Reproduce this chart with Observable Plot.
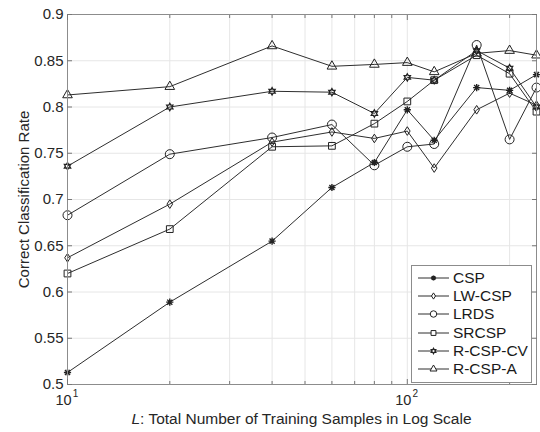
<!DOCTYPE html>
<html>
<head>
<meta charset="utf-8">
<script src="https://cdn.jsdelivr.net/npm/d3@7"></script>
<script src="https://cdn.jsdelivr.net/npm/@observablehq/plot@0.6"></script>
<style>
  body { margin: 0; background: #fff; font-family: "Liberation Sans", Arial, sans-serif; }
  #chart { position: relative; width: 540px; height: 432px; }
  #xlabel { position: absolute; left: 67px; width: 469px; top: 411px; text-align: center;
            font-size: 15.5px; line-height: 15.5px; color: #262626; white-space: nowrap; }
  #legend { position: absolute; left: 411px; top: 265px; width: 119px; height: 113px;
            border: 1px solid #8c8c8c; background: #fff; padding-top: 3px; box-sizing: content-box; }
  .row { display: flex; align-items: center; height: 18.2px; font-size: 15.5px; color: #1a1a1a; }
  .row svg { flex: none; }
</style>
</head>
<body>
<div id="chart"></div>
<script>
// Training sample sizes L and the classification rate of each method
const samples = [10, 20, 40, 60, 80, 100, 120, 160, 200, 240];
const methods = ["CSP", "LW-CSP", "LRDS", "SRCSP", "R-CSP-CV", "R-CSP-A"];
const csp    = [0.513, 0.589, 0.655, 0.713, 0.740, 0.797, 0.764, 0.821, 0.818, 0.835];
const lwCsp  = [0.637, 0.695, 0.762, 0.773, 0.766, 0.774, 0.734, 0.797, 0.815, 0.802];
const lrds   = [0.683, 0.749, 0.767, 0.781, 0.737, 0.757, 0.760, 0.867, 0.765, 0.821];
const srcsp  = [0.620, 0.668, 0.757, 0.758, 0.782, 0.806, 0.829, 0.856, 0.836, 0.795];
const rCspCv = [0.736, 0.800, 0.817, 0.816, 0.793, 0.832, 0.829, 0.861, 0.842, 0.800];
const rCspA  = [0.813, 0.822, 0.866, 0.844, 0.846, 0.848, 0.838, 0.858, 0.861, 0.856];

const yTicks = [0.5, 0.55, 0.6, 0.65, 0.7, 0.75, 0.8, 0.85, 0.9];
const yTickLabels = ["0.5", "0.55", "0.6", "0.65", "0.7", "0.75", "0.8", "0.85", "0.9"];
const xMajor = [10, 100];
const xMinor = [20, 30, 40, 50, 60, 70, 80, 90, 200];
const xBase = "10";

// Marker shapes (d3 symbol types)
const asterisk = {
  draw(ctx, size) {
    const r = Math.sqrt(size / Math.PI), d = r * 0.7071;
    ctx.moveTo(-r, 0); ctx.lineTo(r, 0);
    ctx.moveTo(0, -r); ctx.lineTo(0, r);
    ctx.moveTo(-d, -d); ctx.lineTo(d, d);
    ctx.moveTo(-d, d); ctx.lineTo(d, -d);
  }
};
const tallDiamond = {
  draw(ctx, size) {
    const r = Math.sqrt(size / Math.PI), w = r * 0.78, h = r * 1.2;
    ctx.moveTo(0, -h); ctx.lineTo(w, 0); ctx.lineTo(0, h); ctx.lineTo(-w, 0); ctx.closePath();
  }
};
const hexagram = {
  draw(ctx, size) {
    const R = Math.sqrt(size / Math.PI), ri = R / Math.sqrt(3);
    for (let k = 0; k < 12; ++k) {
      const a = k * Math.PI / 6 - Math.PI / 2, rr = k % 2 ? ri : R;
      const px = rr * Math.cos(a), py = rr * Math.sin(a);
      k ? ctx.lineTo(px, py) : ctx.moveTo(px, py);
    }
    ctx.closePath();
  }
};

const seriesValues = [csp, lwCsp, lrds, srcsp, rCspCv, rCspA];
const seriesSymbols = [asterisk, tallDiamond, d3.symbolCircle, d3.symbolSquare2, hexagram, d3.symbolTriangle2];
const seriesR = [3.6, 3.6, 4.5, 4.3, 3.6, 4.6];
const seriesSW = [1.4, 1, 1, 1, 1.3, 1];

const lineColor = "#2e2e2e";
const markColor = "#222";

const series = methods.map((name, s) => ({
  name,
  rows: samples.map((L, i) => ({L, rate: seriesValues[s][i]})),
  symbol: seriesSymbols[s],
  r: seriesR[s],
  sw: seriesSW[s]
}));

const chart = Plot.plot({
  width: 540,
  height: 432,
  marginLeft: 67,
  marginRight: 4,
  marginTop: 14,
  marginBottom: 48,
  style: {fontFamily: "'Liberation Sans', Arial, sans-serif", fontSize: "15px", color: "#262626", background: "#fff"},
  x: {type: "log", domain: [10, 240]},
  y: {domain: [0.5, 0.9]},
  marks: [
    Plot.gridX(xMinor.concat(xMajor), {stroke: "#e6e6e6", strokeOpacity: 1}),
    Plot.gridY(yTicks, {stroke: "#e6e6e6", strokeOpacity: 1}),
    ...series.map(s => Plot.line(s.rows, {x: "L", y: "rate", stroke: lineColor, strokeWidth: 1})),
    ...series.map(s => Plot.dot(s.rows, {x: "L", y: "rate", symbol: s.symbol, r: s.r, stroke: markColor, strokeWidth: s.sw, fill: "none"})),
    Plot.frame({stroke: "#8c8c8c"}),
    // inward ticks on all four sides
    Plot.axisY(yTicks, {anchor: "left", tickSize: -5, stroke: "#777", tickFormat: () => "", label: null}),
    Plot.axisY(yTicks, {anchor: "right", tickSize: -5, stroke: "#777", tickFormat: () => "", label: null}),
    Plot.axisX(xMajor, {anchor: "bottom", tickSize: -5, stroke: "#777", tickFormat: () => "", label: null}),
    Plot.axisX(xMinor, {anchor: "bottom", tickSize: -3, stroke: "#777", tickFormat: () => "", label: null}),
    Plot.axisX(xMajor, {anchor: "top", tickSize: -5, stroke: "#777", tickFormat: () => "", label: null}),
    Plot.axisX(xMinor, {anchor: "top", tickSize: -3, stroke: "#777", tickFormat: () => "", label: null}),
    // tick labels
    Plot.axisY(yTicks, {anchor: "left", tickSize: 0, tickPadding: 4, fontSize: 15,
      tickFormat: d => yTickLabels[yTicks.indexOf(d)],
      label: "Correct Classification Rate", labelAnchor: "center", labelArrow: "none", labelOffset: 49}),
    Plot.axisX(xMajor, {anchor: "bottom", tickSize: 0, tickPadding: 10, fontSize: 14.5, dx: -4,
      tickFormat: () => xBase, label: null}),
    Plot.axisX(xMajor, {anchor: "bottom", tickSize: 0, tickPadding: 5, fontSize: 10, dx: 8,
      tickFormat: d => String(Math.round(Math.log10(d))), label: null})
  ]
});

const root = document.getElementById("chart");
root.appendChild(chart);

const xl = document.createElement("div");
xl.id = "xlabel";
xl.innerHTML = "<i>L</i>: Total Number of Training Samples in Log Scale";
root.appendChild(xl);

// legend box
const legend = document.createElement("div");
legend.id = "legend";
series.forEach(s => {
  const row = document.createElement("div");
  row.className = "row";
  const sv = d3.create("svg").attr("width", 41).attr("height", 18);
  sv.append("line").attr("x1", 6).attr("x2", 37).attr("y1", 9).attr("y2", 9)
    .attr("stroke", lineColor).attr("stroke-width", 1);
  const lr = s.r * 0.72;
  sv.append("path").attr("transform", "translate(21.5,9)")
    .attr("d", d3.symbol(s.symbol, lr * lr * Math.PI)())
    .attr("fill", "#fff").attr("stroke", markColor).attr("stroke-width", s.sw);
  row.appendChild(sv.node());
  const t = document.createElement("span");
  t.textContent = s.name;
  row.appendChild(t);
  legend.appendChild(row);
});
root.appendChild(legend);
</script>
</body>
</html>
